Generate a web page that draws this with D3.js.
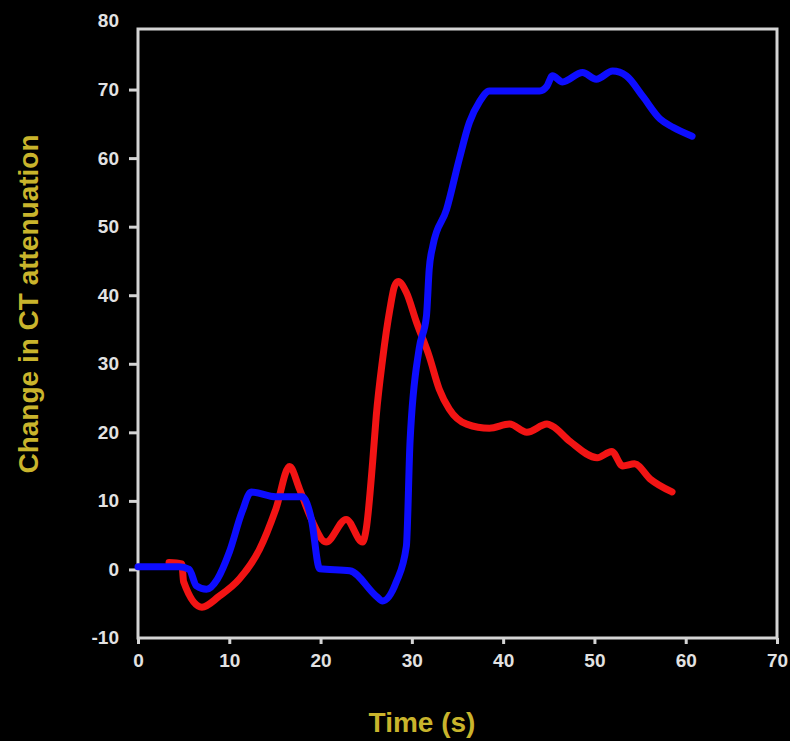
<!DOCTYPE html>
<html>
<head>
<meta charset="utf-8">
<script src="https://cdn.jsdelivr.net/npm/d3@7"></script>
<style>
  html, body { margin: 0; padding: 0; background: #000; }
  svg { display: block; }
</style>
</head>
<body>
<svg id="chart"></svg>
<script>
const width = 790;
const height = 741;

// time (s) / change in CT attenuation
const blueTime = [0, 4.5, 5.6, 6.4, 7.5, 8.7, 10, 11.4, 12.4, 15.1, 18, 19, 19.9, 23.2, 26.1, 26.8, 28.3, 29.4, 29.8, 30.8, 31.6, 31.9, 32.3, 33.8, 35.2, 36.3, 37.4, 38.5, 44, 44.8, 45.4, 46.5, 48.7, 50.2, 52, 53.5, 55.3, 57.2, 58.6, 60.7];
const blueValue = [0.4, 0.4, 0, -2.4, -2.9, -1.4, 2.5, 8.4, 11.3, 10.6, 10.6, 7.3, 0.1, -0.2, -3.9, -4.6, -1.8, 3.4, 18.6, 32.2, 37, 43.8, 47.2, 52.5, 59.9, 65.2, 68.2, 69.8, 69.8, 70.5, 72, 71.1, 72.5, 71.5, 72.7, 72, 69, 65.7, 64.5, 63.2];

const redTime = [3.4, 4.8, 5.0, 7, 8.9, 11.1, 13.3, 15.1, 16.6, 17.7, 19, 20.6, 22.8, 24.6, 25, 25.7, 26.1, 26.8, 27.6, 28.1, 28.5, 29.4, 30.5, 31.9, 33, 34.1, 36, 38.5, 40.7, 42.6, 44.8, 45.4, 47.3, 50.3, 51.9, 53.1, 54.4, 56.1, 58.5];
const redValue = [1, 0.8, -1.8, -5.5, -3.9, -1.4, 2.9, 8.8, 15, 11.7, 7.3, 4, 7.3, 4, 5.9, 15.6, 22.4, 30.7, 38, 41.3, 42, 40.4, 36.1, 31.1, 26.3, 23.4, 21.2, 20.6, 21.2, 20, 21.2, 20.9, 18.7, 16.3, 17.2, 15.1, 15.4, 13.2, 11.3];

const xTicks = [0, 10, 20, 30, 40, 50, 60, 70];
const yTicks = [-10, 0, 10, 20, 30, 40, 50, 60, 70, 80];

const svg = d3.select('#chart')
  .attr('width', width)
  .attr('height', height);

svg.append('rect')
  .attr('width', width)
  .attr('height', height)
  .attr('fill', '#000');

const x = d3.scaleLinear().domain([0, 70]).range([138, 777]);
const y = d3.scaleLinear().domain([-10, 80]).range([638, 21]);

const frameTop = 29;
const frameBottom = y(-10);

// frame
svg.append('path')
  .attr('d', `M${x(0)},${frameBottom} L${x(0)},${frameTop} L${x(70)},${frameTop} L${x(70)},${frameBottom} Z`)
  .attr('fill', 'none')
  .attr('stroke', '#d4d4d4')
  .attr('stroke-width', 3);

// axes
const xAxis = d3.axisBottom(x)
  .tickValues(xTicks)
  .tickSize(6)
  .tickPadding(10);

const yAxis = d3.axisLeft(y)
  .tickValues(yTicks.filter(d => d !== 80 && d !== -10))
  .tickSize(9)
  .tickPadding(10);

const gx = svg.append('g')
  .attr('transform', `translate(0,${frameBottom})`)
  .call(xAxis);

const gy = svg.append('g')
  .attr('transform', `translate(${x(0)},0)`)
  .call(yAxis);

[gx, gy].forEach(g => {
  g.select('.domain').remove();
  g.selectAll('line')
    .attr('stroke', '#d4d4d4')
    .attr('stroke-width', 3);
  g.selectAll('text')
    .attr('fill', '#e2e2e2')
    .style('font-family', '"Liberation Sans", Arial, sans-serif')
    .style('font-weight', 'bold')
    .style('font-size', '19px');
});

// end labels of the y axis have no tick mark
svg.selectAll('.yend')
  .data([80, -10])
  .enter()
  .append('text')
    .attr('x', x(0) - 19)
    .attr('y', d => y(d))
    .attr('dy', '0.32em')
    .attr('text-anchor', 'end')
    .attr('fill', '#e2e2e2')
    .style('font-family', '"Liberation Sans", Arial, sans-serif')
    .style('font-weight', 'bold')
    .style('font-size', '19px')
    .text(d => d);

// series
const line = d3.line()
  .curve(d3.curveMonotoneX)
  .x(d => x(d[0]))
  .y(d => y(d[1]));

const redData = d3.zip(redTime, redValue);
const blueData = d3.zip(blueTime, blueValue);

svg.append('path')
  .datum(redData)
  .attr('d', line)
  .attr('fill', 'none')
  .attr('stroke', '#f21414')
  .attr('stroke-width', 7)
  .attr('stroke-linejoin', 'round')
  .attr('stroke-linecap', 'round');

svg.append('path')
  .datum(blueData)
  .attr('d', line)
  .attr('fill', 'none')
  .attr('stroke', '#0d0dff')
  .attr('stroke-width', 7)
  .attr('stroke-linejoin', 'round')
  .attr('stroke-linecap', 'round');

// axis titles
svg.append('text')
  .attr('x', 422)
  .attr('y', 722)
  .attr('dy', '0.35em')
  .attr('text-anchor', 'middle')
  .attr('fill', '#c9b42c')
  .style('font-family', '"Liberation Sans", Arial, sans-serif')
  .style('font-weight', 'bold')
  .style('font-size', '28px')
  .text('Time (s)');

svg.append('text')
  .attr('transform', 'translate(28,304) rotate(-90)')
  .attr('dy', '0.35em')
  .attr('text-anchor', 'middle')
  .attr('fill', '#c9b42c')
  .style('font-family', '"Liberation Sans", Arial, sans-serif')
  .style('font-weight', 'bold')
  .style('font-size', '28px')
  .text('Change in CT attenuation');
</script>
</body>
</html>
